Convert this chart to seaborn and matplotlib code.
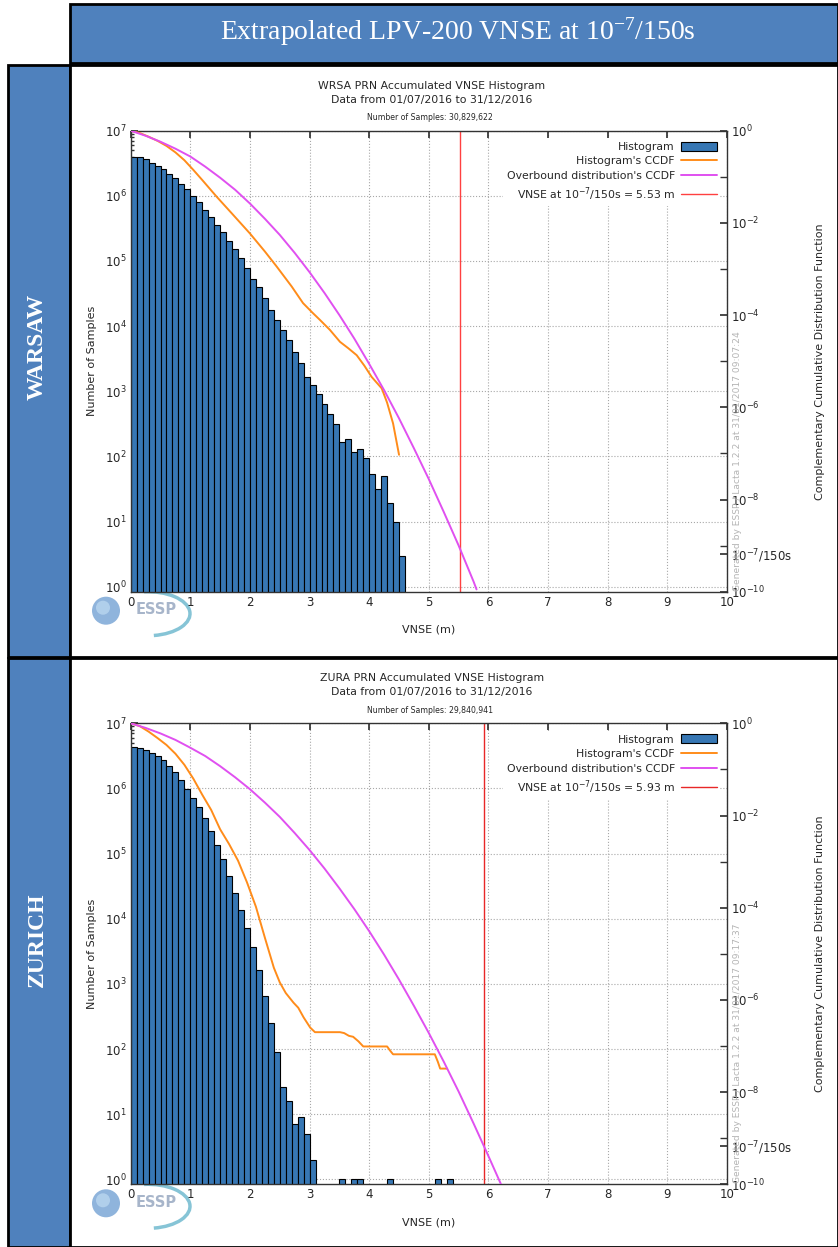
import numpy as np
import matplotlib
matplotlib.use("Agg")
import matplotlib.pyplot as plt
import matplotlib.ticker as mticker
from matplotlib.patches import Rectangle, Circle, Arc, Patch
from matplotlib.lines import Line2D
import seaborn as sns

# histogram counts per 0.1 m bin, starting at 0 m
wrsa_counts = [3980000, 3890000, 3630000, 3240000, 2880000, 2570000, 2190000, 1860000,
               1530000, 1260000, 1010000, 794000, 617000, 479000, 363000, 275000,
               204000, 151000, 110000, 77600, 53700, 39800, 26900, 17800, 12600,
               8710, 6030, 3980, 2690, 1660, 1230, 912, 646, 447, 316, 166, 182,
               117, 132, 95, 54, 32, 50, 19, 10, 3]
zura_counts = [4370000, 4170000, 3890000, 3550000, 3160000, 2690000, 2240000, 1780000,
               1350000, 977000, 724000, 525000, 347000, 224000, 135000, 81300, 44700,
               25100, 13800, 7240, 3720, 1660, 661, 251, 91, 26, 16, 7, 9, 5, 2,
               0, 0, 0, 0, 1, 0, 1, 1, 0, 0, 0, 0, 1, 0, 0, 0, 0, 0, 0, 0, 1, 0, 1]
bin_width = 0.1

# CCDF curves, log10 of probability
wrsa_ccdf_x = [0, 0.15, 0.3, 0.45, 0.6, 0.75, 0.9, 1.05, 1.2, 1.44, 1.7, 2.0, 2.25, 2.45,
               2.7, 2.89, 3.05, 3.17, 3.34, 3.51, 3.65, 3.79, 3.92, 4.04, 4.21, 4.3, 4.40, 4.50]
wrsa_ccdf_y = [0, -0.05, -0.13, -0.22, -0.33, -0.47, -0.64, -0.85, -1.07, -1.43, -1.8, -2.23, -2.62, -2.95,
               -3.38, -3.74, -3.95, -4.1, -4.32, -4.58, -4.72, -4.87, -5.1, -5.34, -5.59, -5.9, -6.35, -7.03]
wrsa_over_x = [0, 0.25, 0.5, 0.75, 1.0, 1.25, 1.5, 1.75, 2.0, 2.25, 2.5, 2.75, 3.0, 3.25,
               3.5, 3.75, 4.0, 4.25, 4.5, 4.75, 5.0, 5.25, 5.5, 5.75, 5.8]
wrsa_over_y = [0, -0.11, -0.24, -0.39, -0.56, -0.78, -1.02, -1.28, -1.58, -1.91, -2.26, -2.65, -3.07, -3.52,
               -4.0, -4.51, -5.06, -5.63, -6.24, -6.89, -7.56, -8.27, -9.0, -9.78, -9.95]

zura_ccdf_x = [0, 0.15, 0.3, 0.45, 0.6, 0.75, 0.9, 1.05, 1.2, 1.35, 1.5, 1.65, 1.8, 1.95, 2.1,
               2.25, 2.4, 2.5, 2.6, 2.73, 2.81, 2.9, 3.01, 3.09, 3.51, 3.58, 3.66, 3.73, 3.82,
               3.90, 4.30, 4.35, 4.40, 5.10, 5.15, 5.19, 5.30]
zura_ccdf_y = [0, -0.06, -0.18, -0.32, -0.47, -0.66, -0.9, -1.2, -1.55, -1.88, -2.3, -2.62, -2.98, -3.45, -3.98,
               -4.65, -5.3, -5.62, -5.85, -6.06, -6.17, -6.38, -6.6, -6.7, -6.7, -6.72, -6.78, -6.8, -6.9,
               -7.01, -7.01, -7.1, -7.18, -7.18, -7.34, -7.49, -7.49]
zura_over_x = [0, 0.25, 0.5, 0.75, 1.0, 1.25, 1.5, 1.75, 2.0, 2.25, 2.5, 2.75, 3.0, 3.25,
               3.5, 3.75, 4.0, 4.25, 4.5, 4.75, 5.0, 5.25, 5.5, 5.75, 6.0, 6.21]
zura_over_y = [0, -0.10, -0.22, -0.36, -0.53, -0.71, -0.93, -1.17, -1.43, -1.72, -2.03, -2.38, -2.75, -3.15,
               -3.58, -4.03, -4.51, -5.02, -5.56, -6.13, -6.72, -7.34, -7.99, -8.68, -9.39, -10.0]

panels = [
    dict(station="WARSAW", code="WRSA", samples="30,829,622", vnse=5.53, stamp="09:07:24",
         counts=wrsa_counts, cx=wrsa_ccdf_x, cy=wrsa_ccdf_y, ox=wrsa_over_x, oy=wrsa_over_y,
         top=130.7, cell=(65, 657), vcol="#ff4040"),
    dict(station="ZURICH", code="ZURA", samples="29,840,941", vnse=5.93, stamp="09:17:37",
         counts=zura_counts, cx=zura_ccdf_x, cy=zura_ccdf_y, ox=zura_over_x, oy=zura_over_y,
         top=723.3, cell=(658, 1247), vcol="#e82828"),
]

sns.set_theme(style="white")
plt.rcParams["font.family"] = ["DejaVu Sans"]

W, H = 838, 1247
fig = plt.figure(figsize=(W / 100, H / 100), dpi=100)
bg = fig.add_axes([0, 0, 1, 1], zorder=0)
bg.set_xlim(0, W)
bg.set_ylim(H, 0)
bg.axis("off")

blue = "#4f81bd"
serif = ["Liberation Serif", "DejaVu Serif"]

# table cells
bg.add_patch(Rectangle((70, 4), W - 70, 59, facecolor=blue, edgecolor="black", lw=2))
bg.text(458, 32, r"Extrapolated LPV-200 VNSE at $\mathdefault{10^{-7}}$/150s", color="white",
        fontsize=20, family=serif, ha="center", va="center")

bar_color = "#3777b4"
ax_left, ax_right = 130.7, 727.0
ax_h = 461.0

for p in panels:
    y0, y1 = p["cell"]
    bg.add_patch(Rectangle((8, y0), 62, y1 - y0, facecolor=blue, edgecolor="black", lw=2))
    bg.add_patch(Rectangle((70, y0), W - 70, y1 - y0, facecolor="white", edgecolor="black", lw=2))
    bg.text(37, p["top"] + 216, p["station"], color="white", fontsize=17, fontweight="bold",
            family=serif, rotation=90, ha="center", va="center")

    # titles
    t = p["top"]
    bg.text(432, t - 45, f"{p['code']} PRN Accumulated VNSE Histogram", fontsize=7.8, ha="center", va="center")
    bg.text(432, t - 31, "Data from 01/07/2016 to 31/12/2016", fontsize=7.8, ha="center", va="center")
    bg.text(430, t - 13, f"Number of Samples: {p['samples']}", fontsize=5.6, ha="center", va="center")

    # ESSP logo
    lb = t + ax_h
    bg.add_patch(Arc((148, lb + 22), 84, 44, theta1=-100, theta2=75, color="#86c4d6", lw=2.5))
    bg.add_patch(Circle((106, lb + 19), 14, facecolor="#8fb4dc", edgecolor="none"))
    bg.add_patch(Circle((103, lb + 16), 7, facecolor="#b9d6f0", edgecolor="none", alpha=0.8))
    bg.text(156, lb + 18, "ESSP", fontsize=10.5, fontweight="bold", color="#a7b5ca",
            ha="center", va="center")

    ax = fig.add_axes([ax_left / W, 1 - (t + ax_h) / H, (ax_right - ax_left) / W, ax_h / H], zorder=1)
    ax.patch.set_alpha(0)
    centers = np.arange(len(p["counts"])) * bin_width + bin_width / 2
    sns.histplot(x=centers, weights=p["counts"], binwidth=bin_width, binrange=(0, 10), ax=ax,
                 color=bar_color, alpha=1, edgecolor="black", linewidth=0.8)
    ax.set_yscale("log")
    ax.set_xlim(0, 10)
    ax.set_ylim(10 ** -0.077, 1e7)
    ax.set_xticks(range(11))
    ax.yaxis.set_major_locator(mticker.LogLocator(base=10, numticks=20))
    ax.yaxis.set_minor_locator(mticker.LogLocator(base=10, subs=np.arange(2, 10), numticks=20))
    ax.yaxis.set_minor_formatter(mticker.NullFormatter())
    ax.grid(True, which="major", ls=":", color="#a8a8a8", lw=0.8)
    ax.set_axisbelow(True)
    ax.tick_params(which="both", direction="in", top=True, right=False, labelsize=8.5,
                   color="#333333", pad=3)
    ax.tick_params(which="major", length=5)
    ax.tick_params(which="minor", length=2.5)
    ax.set_ylabel("Number of Samples", fontsize=8)
    ax.yaxis.set_label_coords(-0.057, 0.5)
    ax.set_xlabel("VNSE (m)", fontsize=8)
    ax.xaxis.set_label_coords(0.5, -0.072)
    for s in ax.spines.values():
        s.set_color("#333333")
        s.set_linewidth(1)

    ax.axvline(p["vnse"], color=p["vcol"], lw=1)

    ax2 = ax.twinx()
    sns.lineplot(x=p["cx"], y=10 ** np.array(p["cy"]), ax=ax2, color="#ff8c1a", lw=1.4,
                 estimator=None, sort=False)
    sns.lineplot(x=p["ox"], y=10 ** np.array(p["oy"]), ax=ax2, color="#e050f0", lw=1.4,
                 estimator=None, sort=False)
    ax2.set_yscale("log")
    ax2.set_ylim(1e-10, 1)
    ax2.set_xlim(0, 10)
    ticks = [1, 1e-2, 1e-4, 1e-6, 1e-8, 1e-7 / 150, 1e-10]
    labels = [r"$10^{0}$", r"$10^{-2}$", r"$10^{-4}$", r"$10^{-6}$", r"$10^{-8}$",
              r"$10^{-7}$/150s", r"$10^{-10}$"]
    ax2.yaxis.set_major_locator(mticker.FixedLocator(ticks))
    ax2.yaxis.set_major_formatter(mticker.FixedFormatter(labels))
    ax2.yaxis.set_minor_locator(mticker.FixedLocator([1e-1, 1e-3, 1e-5, 1e-7, 1e-9]))
    ax2.yaxis.set_minor_formatter(mticker.NullFormatter())
    ax2.tick_params(which="both", direction="in", labelsize=8.5, color="#333333", pad=3)
    ax2.tick_params(which="major", length=5)
    ax2.tick_params(which="minor", length=5)
    ax2.grid(False)
    ax2.set_ylabel("Complementary Cumulative Distribution Function", fontsize=8)
    ax2.yaxis.set_label_coords(1.1476, 0.5)
    for s in ax2.spines.values():
        s.set_visible(False)

    ax2.text(1.01, 0.002, f"Generated by ESSP / Lacta 1.2.2 at 31/01/2017 {p['stamp']}",
             transform=ax2.transAxes, rotation=90, fontsize=6.6, color="#b4b4b4",
             ha="left", va="bottom")

    handles = [
        Patch(facecolor=bar_color, edgecolor="black", lw=0.8),
        Line2D([], [], color="#ff8c1a", lw=1.4),
        Line2D([], [], color="#e050f0", lw=1.4),
        Line2D([], [], color=p["vcol"], lw=1),
    ]
    names = ["Histogram", "Histogram's CCDF", "Overbound distribution's CCDF",
             r"VNSE at $\mathdefault{10^{-7}}$/150s = " + f"{p['vnse']:.2f} m"]
    leg = ax2.legend(handles, names, loc="upper right", bbox_to_anchor=(0.998, 0.995),
                     markerfirst=False, fontsize=7.8, handlelength=3.3, handleheight=0.9,
                     labelspacing=0.4, handletextpad=0.6, borderpad=0.3,
                     frameon=True, facecolor="white", edgecolor="none", framealpha=1)
    for txt in leg.get_texts():
        txt.set_ha("right")

fig.savefig("out.png", dpi=100)
